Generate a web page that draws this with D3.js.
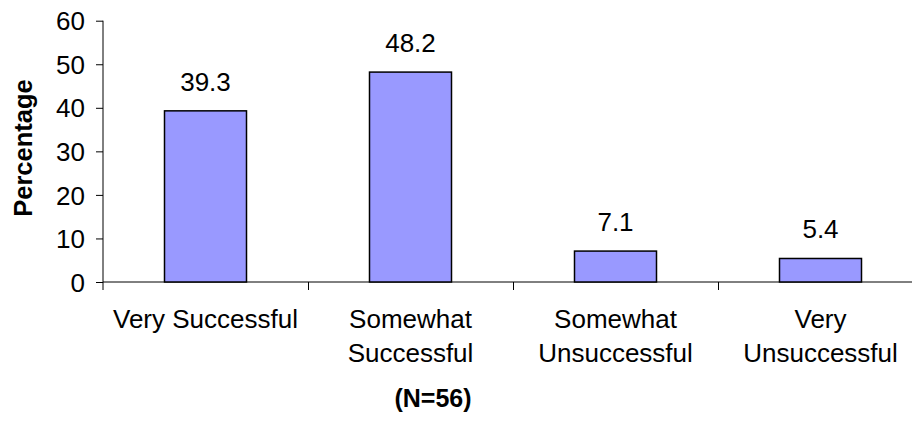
<!DOCTYPE html>
<html>
<head>
<meta charset="utf-8">
<script src="https://cdn.jsdelivr.net/npm/d3@7"></script>
<style>
  body { margin: 0; background: #fff; }
  text { font-family: "Liberation Sans", Arial, sans-serif; fill: #000; }
</style>
</head>
<body>
<div id="chart"></div>
<script>
var categories = [["Very Successful"], ["Somewhat", "Successful"], ["Somewhat", "Unsuccessful"], ["Very", "Unsuccessful"]]
var values = [39.3, 48.2, 7.1, 5.4]
var yTicks = [0, 10, 20, 30, 40, 50, 60]

var width = 912,
    height = 426

var svg = d3.select("#chart").append("svg")
    .attr("width", width)
    .attr("height", height)

var x = d3.scaleBand()
    .domain(d3.range(categories.length))
    .range([103, 923])
    .paddingInner(0)
    .paddingOuter(0)

var y = d3.scaleLinear()
    .domain([0, 60])
    .range([282, 20.7])

// y axis
var yAxis = svg.append("g")
    .attr("transform", "translate(103,0)")
    .call(d3.axisLeft(y).tickValues(yTicks).tickSize(7).tickPadding(11))
yAxis.select(".domain").attr("d", "M0," + y(60) + "V290")
yAxis.selectAll("text").style("font-size", "26px").attr("dy", "0.35em")

// x axis line + category ticks
svg.append("line")
    .attr("x1", 103).attr("x2", width)
    .attr("y1", y(0)).attr("y2", y(0))
    .attr("stroke", "#000")
svg.selectAll(".xtick")
    .data(d3.range(1, categories.length))
  .enter().append("line")
    .attr("x1", function(d) { return Math.round(x(d)) + 0.5 })
    .attr("x2", function(d) { return Math.round(x(d)) + 0.5 })
    .attr("y1", y(0)).attr("y2", y(0) + 8)
    .attr("stroke", "#000")

var barW = x.bandwidth() * 0.4

svg.selectAll(".bar")
    .data(values)
  .enter().append("rect")
    .attr("x", function(d, i) { return x(i) + (x.bandwidth() - barW) / 2 })
    .attr("y", function(d) { return y(d) })
    .attr("width", barW)
    .attr("height", function(d) { return y(0) - y(d) })
    .style("fill", "#9999FF")
    .style("stroke", "#000")
    .style("stroke-width", 1.5)

svg.selectAll(".val")
    .data(values)
  .enter().append("text")
    .attr("x", function(d, i) { return x(i) + x.bandwidth() / 2 })
    .attr("y", function(d) { return y(d) - 20 })
    .attr("text-anchor", "middle")
    .style("font-size", "26px")
    .text(function(d) { return d.toFixed(1) })

var cat = svg.selectAll(".cat")
    .data(categories)
  .enter().append("text")
    .attr("text-anchor", "middle")
    .style("font-size", "26px")
cat.selectAll("tspan")
    .data(function(d, i) { return d.map(function(t) { return { t: t, i: i } }) })
  .enter().append("tspan")
    .attr("x", function(d) { return x(d.i) + x.bandwidth() / 2 })
    .attr("y", function(d, j) { return 328 + j * 34 })
    .text(function(d) { return d.t })

svg.append("text")
    .attr("transform", "translate(32,148) rotate(-90)")
    .attr("text-anchor", "middle")
    .style("font-size", "25.5px")
    .style("font-weight", "bold")
    .text("Percentage")

svg.append("text")
    .attr("x", 433)
    .attr("y", 407)
    .attr("text-anchor", "middle")
    .style("font-size", "25px")
    .style("font-weight", "bold")
    .text("(N=56)")
</script>
</body>
</html>
